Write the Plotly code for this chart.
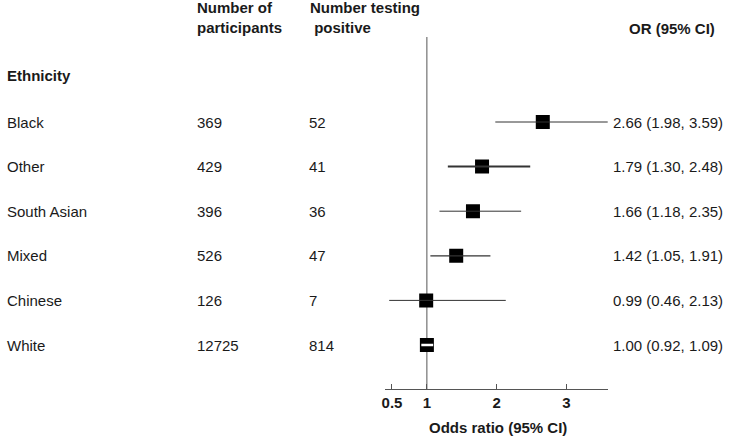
import plotly.graph_objects as go

groups = ["Black", "Other", "South Asian", "Mixed", "Chinese", "White"]
participants = [369, 429, 396, 526, 126, 12725]
positives = [52, 41, 36, 47, 7, 814]
odds_ratio = [2.66, 1.79, 1.66, 1.42, 0.99, 1.00]
ci_low = [1.98, 1.30, 1.18, 1.05, 0.46, 0.92]
ci_high = [3.59, 2.48, 2.35, 1.91, 2.13, 1.09]
tick_vals = [0.5, 1, 2, 3]
tick_text = ["0.5", "1", "2", "3"]

# styles (not data)
ci_widths = [1, 2, 1, 1.3, 1, 2.5]
ci_colors = ["#333333"] * 5 + ["#ffffff"]

W, H = 737, 438
FONT = "Liberation Sans, Arial, sans-serif"
TXT = "#1a1a1a"
FS = 15

rows = list(range(len(groups)))
row_px0, row_step = 122, 44.6
y_top = (0 - row_px0) / row_step
y_bot = (H - row_px0) / row_step

fig = go.Figure()

# reference line at OR = 1
fig.add_trace(go.Scatter(x=[1, 1], y=[(37 - row_px0) / row_step, 6], mode="lines",
                         line=dict(color="#555555", width=1), hoverinfo="skip"))

# point estimates
fig.add_trace(go.Scatter(x=odds_ratio, y=rows, mode="markers",
                         marker=dict(symbol="square", size=14, color="#000000",
                                     line=dict(width=0)), hoverinfo="skip"))

# confidence intervals
for i in rows:
    fig.add_trace(go.Scatter(x=[ci_low[i], ci_high[i]], y=[i, i], mode="lines",
                             line=dict(color=ci_colors[i], width=ci_widths[i]),
                             hoverinfo="skip"))

ann = []
def px_x(p):
    return p / W
def px_y(p):
    return 1 - p / H

COL0, COL1, COL2, COL3 = 2.5, 193, 305.5, 611

# header texts
ann.append(dict(text="<b>Number of<br>participants</b>", x=px_x(COL1), y=px_y(17.5),
                xref="paper", yref="paper", xanchor="left", yanchor="middle",
                align="left", showarrow=False))
ann.append(dict(text="<b>Number testing<br>\u00a0positive</b>", x=px_x(COL2 + 1), y=px_y(17.5),
                xref="paper", yref="paper", xanchor="left", yanchor="middle",
                align="left", showarrow=False))
ann.append(dict(text="<b>OR (95% CI)</b>", x=px_x(716), y=px_y(28),
                xref="paper", yref="paper", xanchor="right", yanchor="middle",
                showarrow=False))
ann.append(dict(text="<b>Ethnicity</b>", x=px_x(COL0), y=px_y(75),
                xref="paper", yref="paper", xanchor="left", yanchor="middle",
                showarrow=False))
ann.append(dict(text="<b>Odds ratio (95% CI)</b>", x=px_x(497), y=px_y(427),
                xref="paper", yref="paper", xanchor="center", yanchor="middle",
                showarrow=False))

for i in rows:
    ann.append(dict(text=groups[i], x=px_x(COL0), y=i, xref="paper", yref="y",
                    xanchor="left", yanchor="middle", showarrow=False))
    ann.append(dict(text=str(participants[i]), x=px_x(COL1), y=i, xref="paper", yref="y",
                    xanchor="left", yanchor="middle", showarrow=False))
    ann.append(dict(text=str(positives[i]), x=px_x(COL2), y=i, xref="paper", yref="y",
                    xanchor="left", yanchor="middle", showarrow=False))
    ann.append(dict(text=f"{odds_ratio[i]:.2f} ({ci_low[i]:.2f}, {ci_high[i]:.2f})",
                    x=px_x(COL3), y=i, xref="paper", yref="y",
                    xanchor="left", yanchor="middle", showarrow=False))

for a in ann:
    a["font"] = dict(family=FONT, size=FS, color=TXT)
    a["borderpad"] = 0

x0px, x1px = 383.5, 607.5
fig.update_layout(
    width=W, height=H, margin=dict(l=0, r=0, t=0, b=0),
    paper_bgcolor="white", plot_bgcolor="white", showlegend=False,
    font=dict(family=FONT, size=FS, color=TXT),
    xaxis=dict(domain=[x0px / W, x1px / W], range=[0.406, 3.597],
               anchor="free", position=px_y(389),
               showline=True, linecolor="#555555", linewidth=1,
               ticks="inside", ticklen=5, tickcolor="#555555", tickwidth=1,
               tickvals=tick_vals, ticktext=[f"<b>{t}</b>" for t in tick_text],
               tickfont=dict(family=FONT, size=FS, color=TXT),
               showgrid=False, zeroline=False, fixedrange=True),
    yaxis=dict(domain=[0, 1], range=[y_bot, y_top], visible=False,
               showgrid=False, zeroline=False, fixedrange=True),
    annotations=ann,
)

fig.write_html("out.html", config={"displayModeBar": False},
               post_script="document.body.style.margin='0';document.body.style.padding='0';")
